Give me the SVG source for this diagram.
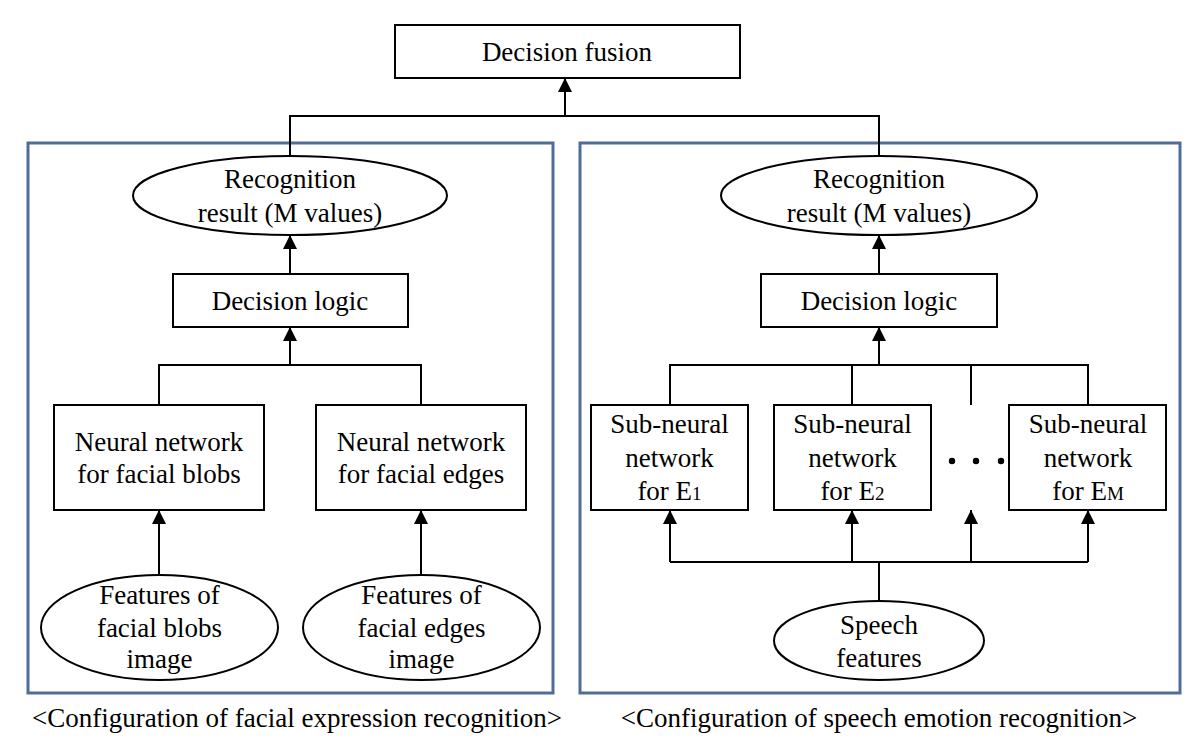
<svg xmlns="http://www.w3.org/2000/svg" width="1200" height="752" viewBox="0 0 1200 752">
<style>
text{font-family:"Liberation Serif","Times New Roman",serif;font-size:27px;fill:#000;text-anchor:middle}
.node{fill:#fff;stroke:#000;stroke-width:2}
.panel{fill:none;stroke:#4f6d98;stroke-width:3}
.wire{fill:none;stroke:#000;stroke-width:2}
.sub{font-size:19px}
</style>
<defs>
<marker id="arr" markerUnits="userSpaceOnUse" markerWidth="14" markerHeight="14" viewBox="0 0 14 14" refX="14" refY="7" orient="auto">
<path d="M0,0 L14,7 L0,14 Z" fill="#000"/>
</marker>
</defs>
<rect width="1200" height="752" fill="#fff"/>
<g id="panel-facial"><rect class="panel" x="28" y="143" width="525" height="550"/></g>
<g id="panel-speech"><rect class="panel" x="580" y="143" width="600" height="550"/></g>
<g id="connectors">
<path class="wire" d="M290,156 V116 H879 V156"/>
<line class="wire" x1="565" y1="116" x2="565" y2="78" marker-end="url(#arr)"/>
<line class="wire" x1="290" y1="274" x2="290" y2="235" marker-end="url(#arr)"/>
<line class="wire" x1="879" y1="274" x2="879" y2="235" marker-end="url(#arr)"/>
<path class="wire" d="M159,405 V365 H421 V405"/>
<line class="wire" x1="290" y1="365" x2="290" y2="327" marker-end="url(#arr)"/>
<line class="wire" x1="159" y1="575" x2="159" y2="510" marker-end="url(#arr)"/>
<line class="wire" x1="421" y1="575" x2="421" y2="510" marker-end="url(#arr)"/>
<path class="wire" d="M670,405 V365 H1088 V405 M852,365 V405 M971,365 V405"/>
<line class="wire" x1="879" y1="365" x2="879" y2="327" marker-end="url(#arr)"/>
<path class="wire" d="M879,601 V562 M670,562 H1088"/>
<line class="wire" x1="670" y1="562" x2="670" y2="510" marker-end="url(#arr)"/>
<line class="wire" x1="852" y1="562" x2="852" y2="510" marker-end="url(#arr)"/>
<line class="wire" x1="971" y1="562" x2="971" y2="510" marker-end="url(#arr)"/>
<line class="wire" x1="1088" y1="562" x2="1088" y2="510" marker-end="url(#arr)"/>
</g>
<g id="decision-fusion"><rect class="node" x="395" y="25" width="345" height="53"/><text x="567" y="61">Decision fusion</text></g>
<g id="result-facial"><ellipse class="node" cx="290" cy="195.5" rx="157" ry="39.5"/><text x="290" y="188">Recognition</text><text x="290" y="222">result (M values)</text></g>
<g id="logic-facial"><rect class="node" x="173" y="274" width="235" height="53"/><text x="290" y="310">Decision logic</text></g>
<g id="nn-blobs"><rect class="node" x="54" y="405" width="210" height="105"/><text x="159" y="451">Neural network</text><text x="159" y="483">for facial blobs</text></g>
<g id="nn-edges"><rect class="node" x="316" y="405" width="210" height="105"/><text x="421" y="451">Neural network</text><text x="421" y="483">for facial edges</text></g>
<g id="feat-blobs"><ellipse class="node" cx="159.5" cy="627.5" rx="118.5" ry="52.5"/><text x="159.5" y="604">Features of</text><text x="159.5" y="637">facial blobs</text><text x="159.5" y="668">image</text></g>
<g id="feat-edges"><ellipse class="node" cx="421.5" cy="627.5" rx="118.5" ry="52.5"/><text x="421.5" y="604">Features of</text><text x="421.5" y="637">facial edges</text><text x="421.5" y="668">image</text></g>
<g id="result-speech"><ellipse class="node" cx="879" cy="195.5" rx="158" ry="39.5"/><text x="879" y="188">Recognition</text><text x="879" y="222">result (M values)</text></g>
<g id="logic-speech"><rect class="node" x="761" y="274" width="236" height="53"/><text x="879" y="310">Decision logic</text></g>
<g id="sub-e1"><rect class="node" x="591" y="405" width="157" height="105"/><text x="669.5" y="433">Sub-neural</text><text x="669.5" y="467">network</text><text x="669.5" y="500">for E<tspan class="sub">1</tspan></text></g>
<g id="sub-e2"><rect class="node" x="774" y="405" width="157" height="105"/><text x="852.5" y="433">Sub-neural</text><text x="852.5" y="467">network</text><text x="852.5" y="500">for E<tspan class="sub">2</tspan></text></g>
<g id="dots"><circle cx="952" cy="461" r="3.2"/><circle cx="976" cy="461" r="3.2"/><circle cx="1001" cy="461" r="3.2"/></g>
<g id="sub-em"><rect class="node" x="1009" y="405" width="157" height="105"/><text x="1088" y="433">Sub-neural</text><text x="1088" y="467">network</text><text x="1088" y="500">for E<tspan class="sub">M</tspan></text></g>
<g id="speech-features"><ellipse class="node" cx="879" cy="640.5" rx="105" ry="39.5"/><text x="879" y="634">Speech</text><text x="879" y="667">features</text></g>
<g id="captions"><text x="297" y="727">&lt;Configuration of facial expression recognition&gt;</text><text x="879" y="727">&lt;Configuration of speech emotion recognition&gt;</text></g>
</svg>
